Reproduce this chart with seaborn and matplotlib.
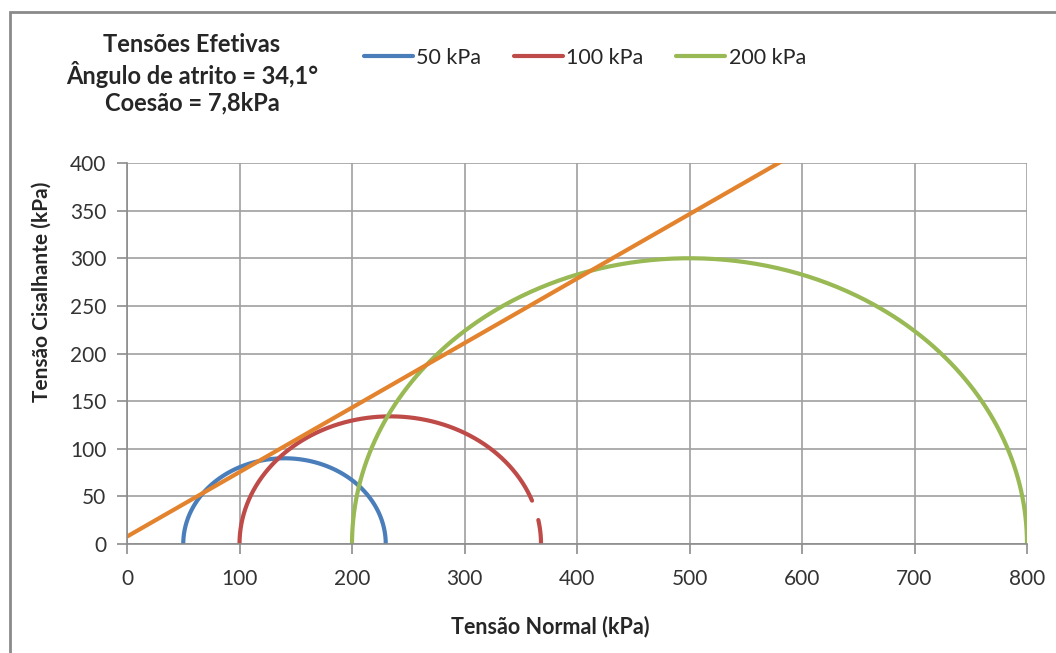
import numpy as np
import pandas as pd
import matplotlib.pyplot as plt
import matplotlib.patches as patches
import seaborn as sns

# --- data ---
labels = ["50 kPa", "100 kPa", "200 kPa"]
sigma3 = [50, 100, 200]        # minor principal stress (kPa)
sigma1 = [230, 368, 800]       # major principal stress (kPa)
colors = ["#4A7EBB", "#BE4B48", "#98B954"]
# the 100 kPa circle has a missing stretch on its right side (tau range, kPa)
gap_label = "100 kPa"
gap_tau = (26, 45)

phi_deg = 34.1   # friction angle
coesao = 7.8     # cohesion (kPa)
env_x = [0, 800]

# --- build circles ---
rows = []
theta = np.linspace(0, np.pi, 400)
for lab, s3, s1 in zip(labels, sigma3, sigma1):
    c = (s1 + s3) / 2
    r = (s1 - s3) / 2
    sx = c + r * np.cos(theta)
    ty = r * np.sin(theta)
    seg = np.zeros_like(sx, dtype=int)
    keep = np.ones_like(sx, dtype=bool)
    if lab == gap_label:
        hole = (np.cos(theta) > 0) & (ty > gap_tau[0]) & (ty < gap_tau[1])
        keep = ~hole
        seg = np.where(np.cos(theta) > 0, np.where(ty <= gap_tau[0], 1, 0), 0)
    for a, b, k, s in zip(sx, ty, keep, seg):
        if k:
            rows.append({"sigma": a, "tau": b, "serie": lab, "seg": s})
df = pd.DataFrame(rows)

env_y = [coesao + np.tan(np.radians(phi_deg)) * x for x in env_x]
df_env = pd.DataFrame({"sigma": env_x, "tau": env_y})

# --- plot ---
sns.set_style("white")
plt.rcParams["font.family"] = ["Lato", "DejaVu Sans"]

fig = plt.figure(figsize=(10.56, 6.53), dpi=100)
ax = fig.add_axes([127 / 1056, 1 - 544 / 653, 900 / 1056, 381 / 653])

sns.lineplot(data=df, x="sigma", y="tau", hue="serie", units="seg",
             estimator=None, sort=False, palette=colors, hue_order=labels,
             linewidth=3, ax=ax)
sns.lineplot(data=df_env, x="sigma", y="tau", color="#E3832E",
             linewidth=3, legend=False, ax=ax)

ax.set_xlim(0, 800)
ax.set_ylim(0, 400)
ax.set_xticks(range(0, 801, 100))
ax.set_yticks(range(0, 401, 50))
ax.grid(True, color="#a0a0a0", linewidth=1.2)
for sp in ["top", "right"]:
    ax.spines[sp].set_visible(False)
for sp in ["left", "bottom"]:
    ax.spines[sp].set_color("#8c8c8c")
    ax.spines[sp].set_linewidth(1.2)
ax.tick_params(axis="both", direction="out", length=7, width=1.2,
               color="#8c8c8c", labelsize=15, labelcolor="#333333",
               left=True, bottom=True)
ax.tick_params(axis="x", pad=11)
ax.tick_params(axis="y", pad=8)

ax.set_xlabel("Tensão Normal (kPa)", fontsize=15.5, fontweight="bold")
ax.set_ylabel("Tensão Cisalhante (kPa)", fontsize=15, fontweight="bold")
ax.xaxis.set_label_coords((550 - 127) / 900, -(616 - 544) / 381)
ax.yaxis.set_label_coords(-(127 - 52) / 900, (544 - 292) / 381)

sns.move_legend(ax, "center left", bbox_to_anchor=(355 / 1056, 1 - 58 / 653),
                bbox_transform=fig.transFigure, ncol=3, frameon=False,
                title=None, fontsize=15.5, handlelength=2.3, handletextpad=0.15,
                columnspacing=1.5, borderaxespad=0)

fig.text(192 / 1056, 1 - 74 / 653,
         "Tensões Efetivas\nÂngulo de atrito = 34,1°\nCoesão = 7,8kPa",
         ha="center", va="center", fontsize=17, fontweight="bold",
         linespacing=1.2)

# chart area border (cut off on the right and bottom in the original)
fig.patches.append(patches.Rectangle((10 / 1056, -0.2), 1.2, 0.2 + 1 - 12 / 653,
                                     transform=fig.transFigure, fill=False,
                                     edgecolor="#8a8a8a", linewidth=2))

fig.savefig("out.png", dpi=100)
